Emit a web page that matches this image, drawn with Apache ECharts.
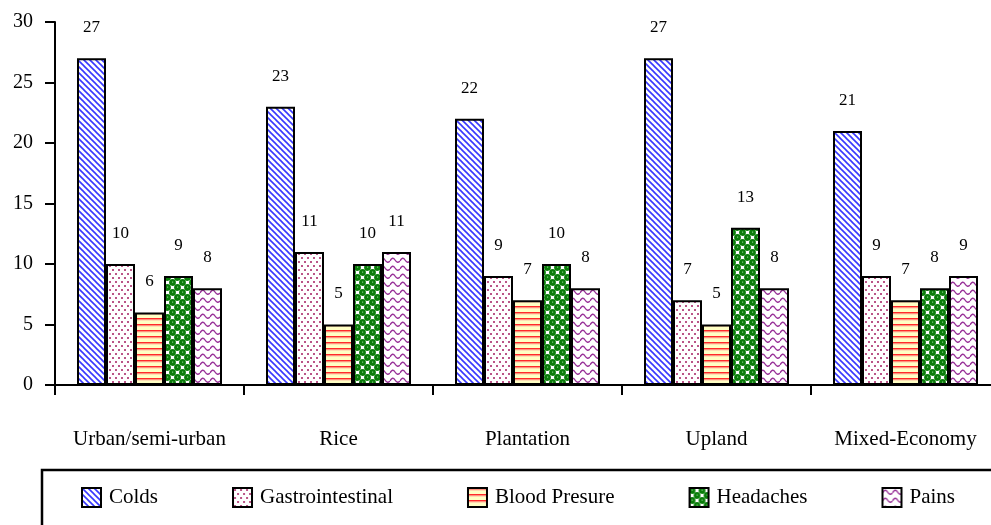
<!DOCTYPE html>
<html>
<head>
<meta charset="utf-8">
<script src="https://cdn.jsdelivr.net/npm/echarts@6/dist/echarts.min.js"></script>
<style>
  html, body { margin: 0; padding: 0; background: #fff; overflow: hidden; }
  /* the plot area runs a little past the right edge of the window */
  #chart { width: 1000px; height: 525px; }
</style>
</head>
<body>
<div id="chart"></div>
<script>
// Zones and ailment counts
const categories = ['Urban/semi-urban', 'Rice', 'Plantation', 'Upland', 'Mixed-Economy'];
const seriesNames = ['Colds', 'Gastrointestinal', 'Blood Presure', 'Headaches', 'Pains'];
const colds = [27, 23, 22, 27, 21];
const gastrointestinal = [10, 11, 9, 7, 9];
const bloodPresure = [6, 5, 7, 5, 7];
const headaches = [9, 10, 10, 13, 8];
const pains = [8, 11, 8, 8, 9];
const yTicks = { min: 0, max: 30, interval: 5 };

const FONT = '"Liberation Serif", "Times New Roman", serif';

// Small repeating tiles used as bar fills
function tile(w, h, draw) {
  const c = document.createElement('canvas');
  c.width = w; c.height = h;
  const ctx = c.getContext('2d');
  draw(ctx, w, h);
  return { image: c, repeat: 'repeat' };
}

const fills = [
  // diagonal blue hatching
  tile(6, 6, (ctx, w, h) => {
    ctx.fillStyle = '#ffffff'; ctx.fillRect(0, 0, w, h);
    ctx.strokeStyle = '#3838ff'; ctx.lineWidth = 1.6;
    for (let o = -6; o <= 6; o += 6) {
      ctx.beginPath(); ctx.moveTo(o - 1, -1); ctx.lineTo(o + 7, 7); ctx.stroke();
    }
  }),
  // sparse pink dots
  tile(6, 8, (ctx, w, h) => {
    ctx.fillStyle = '#ffffff'; ctx.fillRect(0, 0, w, h);
    ctx.fillStyle = '#bb5588';
    ctx.fillRect(1, 1, 2, 2);
    ctx.fillRect(4, 5, 2, 2);
  }),
  // red stripes on pale yellow
  tile(6, 6, (ctx, w, h) => {
    ctx.fillStyle = '#ffffc4'; ctx.fillRect(0, 0, w, h);
    ctx.fillStyle = '#ff2a2a'; ctx.fillRect(0, 0, w, 1.6);
    ctx.fillStyle = '#ffb0a0'; ctx.fillRect(0, 1.6, w, 0.8);
  }),
  // green circles checker
  tile(10, 10, (ctx, w, h) => {
    ctx.fillStyle = '#ffffff'; ctx.fillRect(0, 0, w, h);
    ctx.fillStyle = '#0a7d0a';
    [[2.5, 2.5], [7.5, 7.5], [-2.5, 7.5], [12.5, 2.5], [7.5, -2.5], [2.5, 12.5]].forEach(([x, y]) => {
      ctx.beginPath(); ctx.arc(x, y, 3.4, 0, Math.PI * 2); ctx.fill();
    });
    ctx.fillStyle = '#9fd89f';
    [[2, 1.6], [7, 6.6]].forEach(([x, y]) => {
      ctx.fillRect(x, y, 1.2, 1);
    });
  }),
  // purple waves
  tile(10, 8, (ctx, w, h) => {
    ctx.fillStyle = '#ffffff'; ctx.fillRect(0, 0, w, h);
    ctx.strokeStyle = '#993399'; ctx.lineWidth = 1.4;
    ctx.beginPath();
    ctx.moveTo(0, 5);
    ctx.quadraticCurveTo(2.5, 0, 5, 4);
    ctx.quadraticCurveTo(7.5, 8, 10, 5);
    ctx.stroke();
  })
];

const values = [colds, gastrointestinal, bloodPresure, headaches, pains];

const series = seriesNames.map((name, i) => ({
  name,
  type: 'bar',
  data: values[i],
  barWidth: 29,
  barGap: '0%',
  itemStyle: { color: fills[i], borderColor: '#000', borderWidth: 2 },
  label: {
    show: true,
    position: 'top',
    distance: 22,
    color: '#000',
    fontFamily: FONT,
    fontSize: 17
  }
}));

const chart = echarts.init(document.getElementById('chart'), null, { renderer: 'canvas' });
chart.setOption({
  animation: false,
  backgroundColor: '#ffffff',
  textStyle: { fontFamily: FONT, color: '#000' },
  grid: { left: 55, top: 22, right: 0, bottom: 140, containLabel: false },
  xAxis: {
    type: 'category',
    data: categories,
    axisLine: { lineStyle: { color: '#000', width: 2 } },
    axisTick: { show: true, alignWithLabel: false, interval: 0, length: 10, lineStyle: { color: '#000', width: 2 } },
    axisLabel: { interval: 0, margin: 44, fontSize: 21, fontFamily: FONT, color: '#000' },
    splitLine: { show: false }
  },
  yAxis: {
    type: 'value',
    min: yTicks.min,
    max: yTicks.max,
    interval: yTicks.interval,
    axisLine: { show: true, lineStyle: { color: '#000', width: 2 } },
    axisTick: { show: true, length: 10, lineStyle: { color: '#000', width: 2 } },
    axisLabel: { margin: 22, fontSize: 20, fontFamily: FONT, color: '#000' },
    splitLine: { show: false }
  },
  legend: {
    data: seriesNames,
    left: 81,
    top: 487,
    icon: 'rect',
    itemWidth: 19,
    itemHeight: 19,
    itemGap: 74,
    padding: 0,
    itemStyle: { borderColor: '#000', borderWidth: 2 },
    textStyle: { fontSize: 21, fontFamily: FONT, color: '#000', padding: [5, 0, 0, 3] }
  },
  graphic: [{
    type: 'rect',
    shape: { x: 42, y: 470, width: 1000, height: 120 },
    style: { fill: 'none', stroke: '#000', lineWidth: 2.5 },
    silent: true
  }],
  series
});
</script>
</body>
</html>
